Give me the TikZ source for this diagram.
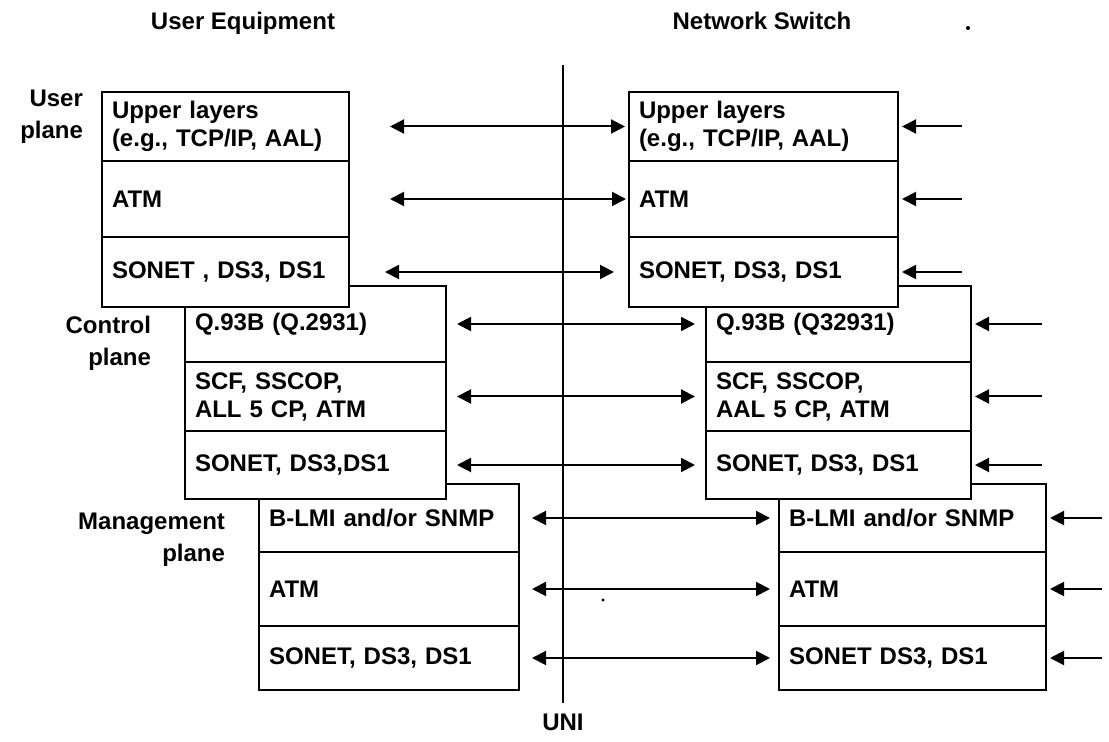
\documentclass[tikz,border=0pt]{standalone}
\usepackage{fontspec}
\setmainfont{Liberation Sans}
\usetikzlibrary{arrows.meta,positioning}

\tikzset{
  layerbox/.style n args={2}{draw, line width=1pt, fill=white, anchor=north west,
    inner sep=0pt, minimum width={#1*0.5pt}, minimum height={#2*0.5pt},
    text width={(#1-20)*0.5pt}, align=left},
  plane/.style={align=right, anchor=east, font=\bfseries\fontsize{12}{16}\selectfont},
  heading/.style={anchor=base},
  biarrow/.style={{Triangle[length=7pt,width=7pt]}-{Triangle[length=7pt,width=7pt]}, line width=1pt},
  inarrow/.style={-{Triangle[length=7pt,width=7pt]}, line width=1pt},
}

\begin{document}
\begin{tikzpicture}[x=0.5pt, y=-0.5pt, every node/.style={font=\bfseries\fontsize{12}{14}\selectfont}]
  \useasboundingbox (0,0) rectangle (1109,742);

  % management plane (lies under the others)
  \node[layerbox={260}{68}] (ueLmi)  at (258,483) {B-LMI and/or SNMP};
  \node[layerbox={260}{74}] (ueMAtm) at (258,551) {ATM};
  \node[layerbox={260}{64}] (ueMPhy) at (258,625) {SONET, DS3, DS1};
  \node[layerbox={267}{68}] (nsLmi)  at (778,483) {B-LMI and/or SNMP};
  \node[layerbox={267}{74}] (nsMAtm) at (778,551) {ATM};
  \node[layerbox={267}{64}] (nsMPhy) at (778,625) {SONET DS3, DS1};

  % control plane
  \node[layerbox={261}{76}] (ueSig)  at (184,285) {Q.93B (Q.2931)};
  \node[layerbox={261}{69}] (ueSaal) at (184,361) {SCF, SSCOP,\\ALL 5 CP, ATM};
  \node[layerbox={261}{68}] (ueCPhy) at (184,430) {SONET, DS3,DS1};
  \node[layerbox={265}{76}] (nsSig)  at (705,285) {Q.93B (Q32931)};
  \node[layerbox={265}{69}] (nsSaal) at (705,361) {SCF, SSCOP,\\AAL 5 CP, ATM};
  \node[layerbox={265}{68}] (nsCPhy) at (705,430) {SONET, DS3, DS1};

  % user plane (on top)
  \node[layerbox={247}{69}] (ueUp)  at (101,91)  {Upper layers\\(e.g., TCP/IP, AAL)};
  \node[layerbox={247}{76}] (ueAtm) at (101,160) {ATM};
  \node[layerbox={247}{70}] (uePhy) at (101,236) {SONET , DS3, DS1};
  \node[layerbox={269}{69}] (nsUp)  at (628,91)  {Upper layers\\(e.g., TCP/IP, AAL)};
  \node[layerbox={269}{76}] (nsAtm) at (628,160) {ATM};
  \node[layerbox={269}{70}] (nsPhy) at (628,236) {SONET, DS3, DS1};

  % headings and plane labels
  \node[heading] (ueTitle) at (243,30) {User Equipment};
  \node[heading] (nsTitle) at (762,30) {Network Switch};
  \node[plane] (upLbl) at (90,117)  {User\\plane};
  \node[plane] (cpLbl) at (158,343) {Control\\plane};
  \node[plane] (mpLbl) at (232,540) {Management\\plane};

  % the UNI
  \node (uni) at (563,722) {UNI};
  \coordinate (uniTop) at (563,65);
  \draw[line width=1pt] (uniTop) -- ([yshift=2pt]uni.north);

  % peer flows across the UNI
  \foreach \r/\ds/\de in {Up/20pt/1.5pt, Atm/20pt/1pt, Phy/17.5pt/7pt,
      Sig/5pt/5pt, Saal/5pt/5pt, CPhy/5pt/5pt, Lmi/6pt/4pt, MAtm/6pt/4pt, MPhy/6pt/4pt}
    \draw[biarrow, shorten >=\de] ([xshift=\ds]ue\r.east) -- (ns\r.west);

  % flows entering the switch from the network side
  \foreach \r/\dx in {Up/31.5pt, Atm/31.5pt, Phy/31.5pt, Sig/35pt, Saal/35pt, CPhy/35pt,
      Lmi/27.5pt, MAtm/27.5pt, MPhy/27.5pt} {
    \coordinate (in\r) at ([xshift=\dx]ns\r.east);
    \draw[inarrow, shorten >=1.5pt] (in\r) -- (ns\r.east);
  }

  % stray marks
  \fill (968,28) circle (1pt);
  \fill (603,600) circle (0.8pt);
\end{tikzpicture}
\end{document}
